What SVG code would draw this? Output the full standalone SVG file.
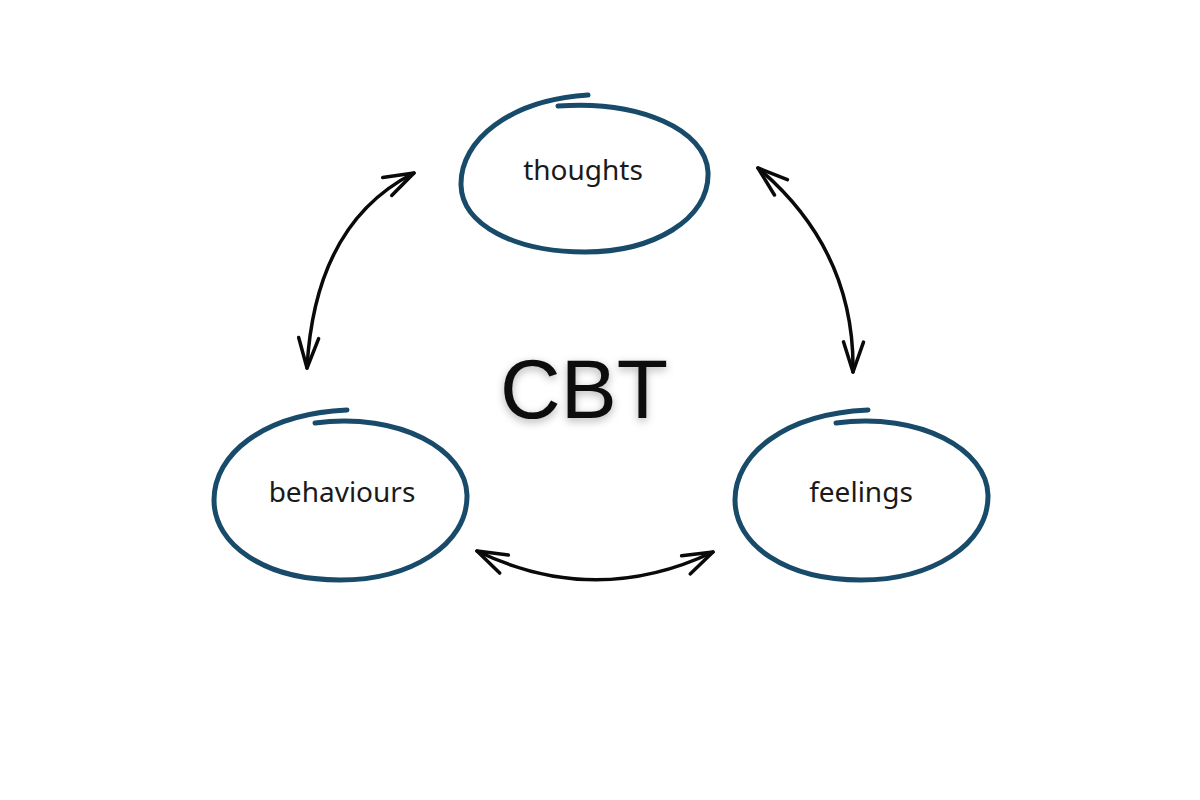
<svg xmlns="http://www.w3.org/2000/svg" width="1200" height="800" viewBox="0 0 1200 800">
  <style>
    .ring { fill: none; stroke: #184a6a; stroke-width: 5; stroke-linecap: round; stroke-linejoin: round; }
    .label { font-family: "Noto Sans", "Open Sans", sans-serif; font-size: 28px; fill: #1a1a1a; text-anchor: middle; }
    .title { font-family: "Liberation Sans", Arial, sans-serif; font-size: 84px; fill: #0a0a0a; text-anchor: middle; }
    .link { fill: none; stroke: #0a0a0a; stroke-width: 3.5; stroke-linecap: round; marker-start: url(#head); marker-end: url(#head); }
  </style>
  <defs>
    <marker id="head" markerUnits="userSpaceOnUse" viewBox="-40 -20 50 40" refX="0" refY="0" markerWidth="50" markerHeight="40" orient="auto-start-reverse" overflow="visible">
      <path d="M -30 -10 L 0 0 L -30 10" fill="none" stroke="#0a0a0a" stroke-width="3.5" stroke-linecap="round" stroke-linejoin="round"/>
    </marker>
    <filter id="shadow" x="-20%" y="-20%" width="140%" height="160%">
      <feDropShadow dx="0" dy="3" stdDeviation="4" flood-color="#000" flood-opacity="0.3"/>
    </filter>
  </defs>
  <rect width="1200" height="800" fill="#ffffff"/>

  <g id="connectors">
    <path class="link" d="M 307 368 Q 315 223 414 173"/>
    <path class="link" d="M 758 168 Q 855 250 853 372"/>
    <path class="link" d="M 477 551 Q 595 608 713 552"/>
  </g>

  <g id="thoughts">
    <path class="ring" d="M 558 106 C 640 100, 706 130, 708 172 C 710 220, 652 252, 585 252 C 515 252, 462 225, 461 185 C 460 140, 510 100, 588 95"/>
    <text class="label" x="583" y="180">thoughts</text>
  </g>

  <g id="behaviours">
    <path class="ring" d="M 315 423 C 400 412, 466 450, 467 495 C 468 545, 410 580, 340 580 C 265 580, 214 545, 214 500 C 214 455, 262 414, 347 410"/>
    <text class="label" x="342" y="502">behaviours</text>
  </g>

  <g id="feelings">
    <path class="ring" d="M 836 423 C 921 412, 987 450, 988 495 C 989 545, 931 580, 861 580 C 786 580, 735 545, 735 500 C 735 455, 783 414, 868 410"/>
    <text class="label" x="861" y="502">feelings</text>
  </g>

  <g id="cbt">
    <text class="title" x="584" y="418" filter="url(#shadow)">CBT</text>
  </g>
</svg>
